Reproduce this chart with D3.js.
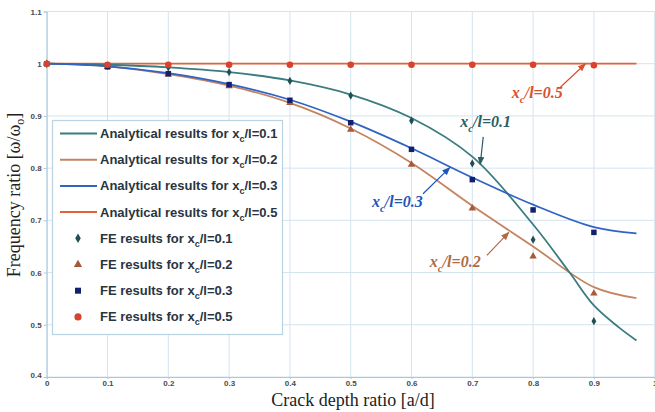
<!DOCTYPE html>
<html>
<head>
<meta charset="utf-8">
<script src="https://cdn.jsdelivr.net/npm/d3@7"></script>
<style>
    body { margin: 0; background: #fff; }
    svg { display: block; }
</style>
</head>
<body>
<div id="chart"></div>
<script>
// FE sample positions (crack depth ratio)
const feDepth = [0, 0.1, 0.2, 0.3, 0.4, 0.5, 0.6, 0.7, 0.8, 0.9];
// FE results
const fe01 = [1, 0.996, 0.993, 0.984, 0.967, 0.939, 0.891, 0.809, 0.663, 0.507];
const fe02 = [1, 0.994, 0.979, 0.957, 0.925, 0.874, 0.807, 0.723, 0.631, 0.560];
const fe03 = [1, 0.994, 0.981, 0.960, 0.930, 0.887, 0.836, 0.778, 0.720, 0.677];
const fe05 = [1, 0.998, 0.998, 0.998, 0.998, 0.998, 0.998, 0.998, 0.998, 0.997];

// Analytical curves, read at a few depths along each line
const an01Depth = [0, 0.1, 0.2, 0.3, 0.4, 0.5, 0.6, 0.7, 0.8, 0.86, 0.9, 0.94, 0.97];
const an01 = [1, 0.998, 0.993, 0.984, 0.968, 0.941, 0.896, 0.822, 0.692, 0.600, 0.537, 0.496, 0.470];
const an02Depth = [0, 0.1, 0.2, 0.3, 0.4, 0.5, 0.6, 0.7, 0.8, 0.9, 0.97];
const an02 = [1, 0.995, 0.980, 0.958, 0.925, 0.876, 0.810, 0.728, 0.650, 0.572, 0.551];
const an03Depth = [0, 0.1, 0.2, 0.3, 0.4, 0.5, 0.6, 0.7, 0.8, 0.9, 0.97];
const an03 = [1, 0.995, 0.982, 0.961, 0.931, 0.889, 0.838, 0.782, 0.730, 0.687, 0.675];
const an05Depth = [0, 0.97];
const an05 = [1, 1];

const xTicks = [0, 0.1, 0.2, 0.3, 0.4, 0.5, 0.6, 0.7, 0.8, 0.9, 1];
const yTicks = [0.4, 0.5, 0.6, 0.7, 0.8, 0.9, 1, 1.1];
const caseLabels = ['0.1', '0.2', '0.3', '0.5'];

const colors = {
    line: ['#3b7c80', '#c4845f', '#2f63c4', '#e2603a'],
    point: ['#1f4f52', '#a65a3a', '#13206e', '#d8432e'],
    note: ['#2a5e62', '#b06a45', '#1f55b8', '#d9502e']
};

const size = { width: 655, height: 412 };
const plot = { left: 46.7, right: 654.7, top: 11.5, bottom: 377 };

const svg = d3.select('#chart').append('svg')
    .attr('width', size.width)
    .attr('height', size.height);

const x = d3.scaleLinear().domain([0, 1]).range([plot.left, plot.right]);
const y = d3.scaleLinear().domain([0.4, 1.1]).range([plot.bottom, plot.top]);

// arrow heads for annotations
const defs = svg.append('defs');
colors.note.forEach(function (c, i) {
    defs.append('marker')
        .attr('id', 'arrow' + i)
        .attr('viewBox', '0 0 10 10')
        .attr('refX', 9).attr('refY', 5)
        .attr('markerWidth', 7).attr('markerHeight', 7)
        .attr('orient', 'auto')
        .append('path')
        .attr('d', 'M0,1 L10,5 L0,9 Z')
        .attr('fill', c);
});

// grid
const gridColor = '#d3e4ef';
svg.append('g').selectAll('line').data(xTicks).enter().append('line')
    .attr('x1', d => x(d)).attr('x2', d => x(d))
    .attr('y1', plot.top).attr('y2', plot.bottom)
    .attr('stroke', gridColor).attr('stroke-width', 1);
svg.append('g').selectAll('line').data(yTicks).enter().append('line')
    .attr('x1', plot.left).attr('x2', plot.right)
    .attr('y1', d => y(d)).attr('y2', d => y(d))
    .attr('stroke', gridColor).attr('stroke-width', 1);

// axes
const tickFont = 'bold 8px "Liberation Sans", Arial, sans-serif';
const xAxis = svg.append('g')
    .attr('transform', 'translate(0,' + plot.bottom + ')')
    .call(d3.axisBottom(x).tickValues(xTicks).tickSize(2).tickPadding(1)
        .tickFormat(d => d3.format('~g')(d)));
const yAxis = svg.append('g')
    .attr('transform', 'translate(' + plot.left + ',0)')
    .call(d3.axisLeft(y).tickValues(yTicks).tickSize(3).tickPadding(2)
        .tickFormat(d => d3.format('~g')(d)));
[xAxis, yAxis].forEach(function (a) {
    a.select('.domain').attr('stroke', '#a9c8dc');
    a.selectAll('.tick line').attr('stroke', '#a9c8dc');
    a.selectAll('.tick text').style('font', tickFont).attr('fill', '#4b4b4b');
});
// the 0.4 label sits a little higher than the others
yAxis.selectAll('.tick text').filter(d => d === 0.4).attr('dy', '0.05em');

// axis titles
svg.append('text')
    .attr('x', 353).attr('y', 406)
    .attr('text-anchor', 'middle')
    .style('font', '18px "Liberation Serif", "Times New Roman", serif')
    .attr('fill', '#222')
    .text('Crack depth ratio [a/d]');
const yTitle = svg.append('text')
    .attr('transform', 'translate(20,195) rotate(-90)')
    .attr('text-anchor', 'middle')
    .style('font', '18px "Liberation Serif", "Times New Roman", serif')
    .attr('fill', '#222');
yTitle.append('tspan').text('Frequency ratio [ω/ω');
yTitle.append('tspan').attr('dy', 4).style('font-size', '12px').text('o');
yTitle.append('tspan').attr('dy', -4).text(']');

// analytical lines
const line = d3.line().x(d => x(d[0])).y(d => y(d[1])).curve(d3.curveCatmullRom.alpha(0.5));
const analytical = [
    d3.zip(an01Depth, an01),
    d3.zip(an02Depth, an02),
    d3.zip(an03Depth, an03),
    d3.zip(an05Depth, an05)
];
const lineOrder = [3, 1, 0, 2];
lineOrder.forEach(function (i) {
    svg.append('path')
        .datum(analytical[i])
        .attr('d', line)
        .attr('fill', 'none')
        .attr('stroke', colors.line[i])
        .attr('stroke-width', 1.8);
});

// FE markers
const symbols = [d3.symbolDiamond, d3.symbolTriangle, d3.symbolSquare, d3.symbolCircle];
const symbolSizes = [20, 24, 30, 34];
const feValues = [fe01, fe02, fe03, fe05];
feValues.forEach(function (vals, i) {
    svg.append('g').selectAll('path')
        .data(d3.zip(feDepth, vals))
        .enter().append('path')
        .attr('transform', d => 'translate(' + x(d[0]) + ',' + y(d[1]) + ')')
        .attr('d', d3.symbol().type(symbols[i]).size(symbolSizes[i]))
        .attr('fill', colors.point[i]);
});

// annotations (positions in data space)
const annotations = [
    { k: 0, label: [0.68, 0.878], from: [0.718, 0.860], to: [0.713, 0.807] },
    { k: 2, label: [0.535, 0.725], from: [0.619, 0.751], to: [0.663, 0.801] },
    { k: 1, label: [0.630, 0.610], from: [0.724, 0.633], to: [0.760, 0.677] },
    { k: 3, label: [0.765, 0.935], from: [0.844, 0.954], to: [0.886, 1.0] }
];
annotations.forEach(function (a) {
    svg.append('line')
        .attr('x1', x(a.from[0])).attr('y1', y(a.from[1]))
        .attr('x2', x(a.to[0])).attr('y2', y(a.to[1]))
        .attr('stroke', colors.note[a.k]).attr('stroke-width', 1.2)
        .attr('marker-end', 'url(#arrow' + a.k + ')');
    const t = svg.append('text')
        .attr('x', x(a.label[0])).attr('y', y(a.label[1]))
        .style('font', 'italic bold 16px "Liberation Serif", "Times New Roman", serif')
        .attr('fill', colors.note[a.k]);
    t.append('tspan').text('x');
    t.append('tspan').attr('dy', 5).style('font-size', '11px').text('c');
    t.append('tspan').attr('dy', -5).text('/l=' + caseLabels[a.k]);
});

// legend
const legend = svg.append('g');
legend.append('rect')
    .attr('x', 52.5).attr('y', 120.5)
    .attr('width', 230).attr('height', 214)
    .attr('fill', '#fff')
    .attr('stroke', '#b9d3e3').attr('stroke-width', 1.2);
const legendRows = [];
caseLabels.forEach((c, i) => legendRows.push({ kind: 'line', i: i, prefix: 'Analytical results for x' }));
caseLabels.forEach((c, i) => legendRows.push({ kind: 'point', i: i, prefix: 'FE results for x' }));
const legendFont = 'bold 13px "Liberation Sans", Arial, sans-serif';
legendRows.forEach(function (r, n) {
    const yy = 133.5 + n * 26.2;
    if (r.kind === 'line') {
        legend.append('line')
            .attr('x1', 60).attr('x2', 97)
            .attr('y1', yy).attr('y2', yy)
            .attr('stroke', colors.line[r.i]).attr('stroke-width', 2);
    } else {
        legend.append('path')
            .attr('transform', 'translate(78,' + yy + ')')
            .attr('d', d3.symbol().type(symbols[r.i]).size(symbolSizes[r.i] + 6))
            .attr('fill', colors.point[r.i]);
    }
    const t = legend.append('text')
        .attr('x', 100).attr('y', yy + 4.5)
        .style('font', legendFont)
        .attr('fill', '#2a3540');
    t.append('tspan').text(r.prefix);
    t.append('tspan').attr('dy', 4).style('font-size', '9px').text('c');
    t.append('tspan').attr('dy', -4).text('/l=' + caseLabels[r.i]);
});
</script>
</body>
</html>
